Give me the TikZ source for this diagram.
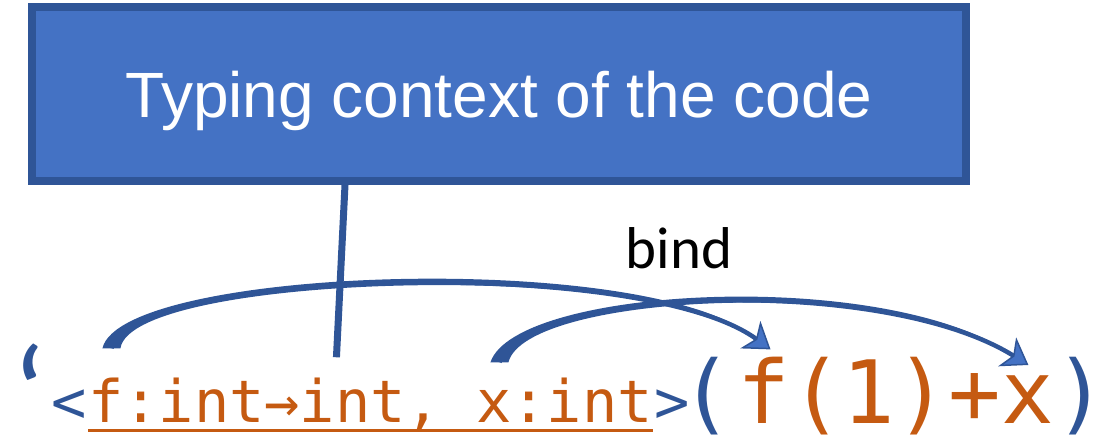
\documentclass[tikz,border=0pt]{standalone}
\usepackage{fontspec}
\setmainfont{Liberation Sans}
\newfontfamily\codefont{DejaVu Sans Mono}
\newfontfamily\calfont{Carlito}
\usetikzlibrary{positioning,arrows.meta,calc}
\definecolor{boxblue}{RGB}{68,114,196}
\definecolor{edgeblue}{RGB}{47,85,151}
\definecolor{codeorange}{RGB}{197,90,17}

\begin{document}
\begin{tikzpicture}[x=1pt,y=-1pt,
  ctxbox/.style={draw=edgeblue, fill=boxblue, line width=8pt, minimum width=934pt,
    minimum height=174pt, text=white, text depth=0pt, font=\fontsize{64}{70}\selectfont},
  small/.style={inner sep=0pt, font=\codefont\fontsize{58.6}{60}\selectfont},
  big/.style={inner sep=0pt, font=\codefont\fontsize{87.4}{90}\selectfont},
  bindarrow/.style={edgeblue, line width=4.5pt,
    -{Stealth[length=25pt,width=34pt,inset=7pt,fill=boxblue,line width=1.5pt]}}
]
  \useasboundingbox (0,0) rectangle (1102,443);
  % Box with the context
  \node[ctxbox] (box) at (499,94) {Typing context of the code};
  % Quoted code
  \node[edgeblue, inner sep=0pt, anchor=base west, font=\calfont\fontsize{134}{134}\selectfont] (quote) at (12,440) {‘};
  \node[small, codeorange, anchor=base west] (ctx) at (88,422) {f:int→int, x:int};
  \node[small, edgeblue, base left=1pt of ctx] (lt) {<};
  \node[small, edgeblue, base right=1pt of ctx] (gt) {>};
  \draw[codeorange, line width=3pt] ([shift={(0,8)}]ctx.base west) -- ([shift={(0,8)}]ctx.base east);
  \node[big, edgeblue, anchor=base west] (lpar) at (680,423) {(};
  \node[big, codeorange, base right=4pt of lpar] (fch) {f};
  \node[big, codeorange, base right=0pt of fch] (mid) {(1)+};
  \node[big, codeorange, base right=0pt of mid] (xch) {x};
  \node[big, edgeblue, base right=0pt of xch] (rpar) {)};
  % Stem from box to context
  \draw[edgeblue, line width=7pt] ([xshift=-154pt]box.south) -- ([shift={(-34,-20)}]ctx.north);
  % Binding arrows (tapered shafts)
  \node[inner sep=0pt, font=\calfont\fontsize{59}{60}\selectfont] (bindlbl) at (679,248) {bind};
  \coordinate (s1) at ([shift={(-259,-29)}]ctx.north);
  \coordinate (t1) at ([shift={(7,-7)}]fch.north);
  \coordinate (s2) at ([shift={(129,-15)}]ctx.north);
  \coordinate (t2) at ([shift={(1,-10)}]xch.north);
  \fill[edgeblue] ([xshift=-9pt]s1) .. controls +(19,-81) and +(-112,-86) .. ($(t1)+(-19,-14)$)
    .. controls +(-108,-76) and +(11,-74) .. ([xshift=9pt]s1) -- cycle;
  \fill[edgeblue] ([xshift=-9pt]s2) .. controls +(25,-75) and +(-131,-85) .. ($(t2)+(-20,-13)$)
    .. controls +(-127,-76) and +(17,-68) .. ([xshift=9pt]s2) -- cycle;
  \draw[bindarrow] (s1) .. controls +(14,-78) and +(-130,-95) .. (t1);
  \draw[bindarrow] (s2) .. controls +(20,-72) and +(-150,-93) .. (t2);
\end{tikzpicture}
\end{document}
